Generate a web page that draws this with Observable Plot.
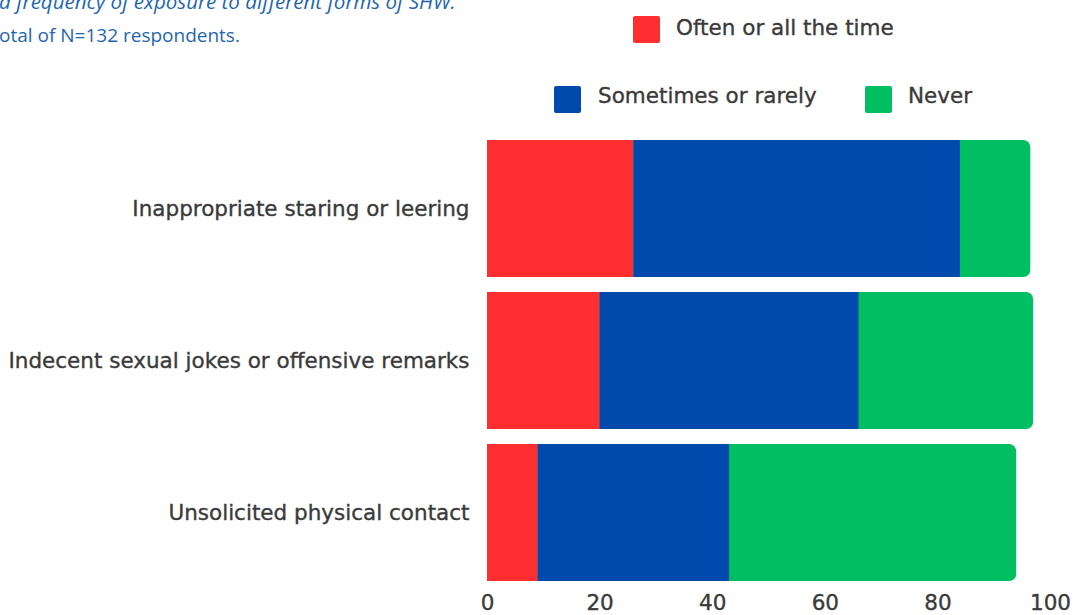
<!DOCTYPE html>
<html>
<head>
<meta charset="utf-8">
<script src="https://cdn.jsdelivr.net/npm/d3@7"></script>
<script src="https://cdn.jsdelivr.net/npm/@observablehq/plot@0.6"></script>
<style>
  html, body { margin: 0; padding: 0; background: #fff; }
  #wrap { width: 1076px; height: 615px; position: relative; overflow: hidden; }
  #topArea { position: relative; width: 1076px; height: 125px; }
  .hdr { position: absolute; left: -1px; font-family: "Open Sans", sans-serif; font-size: 19px; line-height: 19px; color: #1f66ae; white-space: nowrap; }
  .sw { position: absolute; width: 27px; height: 27px; border-radius: 2px; }
  .lt { position: absolute; font-family: "DejaVu Sans", sans-serif; font-size: 21.5px; color: #3a3a3a; white-space: nowrap; line-height: 28px; -webkit-text-stroke: 0.35px #3a3a3a; }
  #chart svg text { stroke: #3a3a3a; stroke-width: 0.35px; }
  svg { display: block; }
</style>
</head>
<body>
<div id="wrap">
  <div id="topArea"></div>
  <div id="chart"></div>
</div>
<script>
const categories = [
  "Inappropriate staring or leering",
  "Indecent sexual jokes or offensive remarks",
  "Unsolicited physical contact"
];
const often = [26, 20, 9];
const sometimes = [58, 46, 34];
const never = [12.5, 31, 51];
const series = ["Often or all the time", "Sometimes or rarely", "Never"];
const colors = ["#ff2e31", "#004aad", "#00bf63"];
const xTicks = [0, 20, 40, 60, 80, 100];
const headerLines = [
  "d frequency of exposure to different forms of SHW.",
  "otal of N=132 respondents."
];

const topArea = document.getElementById("topArea");
const h1 = document.createElement("div");
h1.className = "hdr"; h1.style.top = "-8px"; h1.style.fontStyle = "italic"; h1.style.fontSize = "20.5px";
h1.textContent = headerLines[0];
topArea.appendChild(h1);
const h2 = document.createElement("div");
h2.className = "hdr"; h2.style.top = "26px";
h2.textContent = headerLines[1];
topArea.appendChild(h2);

const legendPos = [
  {sx: 633, sy: 16, tx: 676, ty: 14},
  {sx: 554, sy: 86, tx: 598, ty: 82},
  {sx: 865, sy: 86, tx: 908, ty: 82}
];
series.forEach((s, i) => {
  const p = legendPos[i];
  const sw = document.createElement("div");
  sw.className = "sw"; sw.style.left = p.sx + "px"; sw.style.top = p.sy + "px"; sw.style.background = colors[i];
  topArea.appendChild(sw);
  const t = document.createElement("div");
  t.className = "lt"; t.style.left = p.tx + "px"; t.style.top = p.ty + "px";
  t.textContent = s;
  topArea.appendChild(t);
});

const rows = categories.map((c, i) => ({
  cat: c,
  o1: 0, o2: often[i],
  s1: often[i], s2: often[i] + sometimes[i],
  n1: 0, n2: often[i] + sometimes[i] + never[i]
}));

const chart = Plot.plot({
  width: 1076,
  height: 490,
  marginLeft: 487,
  marginRight: 26,
  marginTop: 14,
  marginBottom: 33,
  style: { fontFamily: "DejaVu Sans, sans-serif", color: "#3a3a3a", background: "#fff" },
  x: { domain: [0, 100], ticks: xTicks, tickSize: 0, label: null },
  y: { domain: categories, paddingInner: 0.1, paddingOuter: 0, tickSize: 0, label: null },
  marks: [
    Plot.barX(rows, { y: "cat", x1: "n1", x2: "n2", fill: colors[2], rx: 7, inset: 0 }),
    Plot.barX(rows, { y: "cat", x1: "o1", x2: "o2", fill: colors[0], inset: 0 }),
    Plot.barX(rows, { y: "cat", x1: "s1", x2: "s2", fill: colors[1], inset: 0 }),
    Plot.axisX({ ticks: xTicks, tickSize: 0, tickPadding: 12, fontSize: 21.5, fill: "#3a3a3a", label: null }),
    Plot.axisY({ tickSize: 0, tickPadding: 18, fontSize: 21.5, fill: "#3a3a3a", label: null })
  ]
});
document.getElementById("chart").appendChild(chart);
</script>
</body>
</html>
